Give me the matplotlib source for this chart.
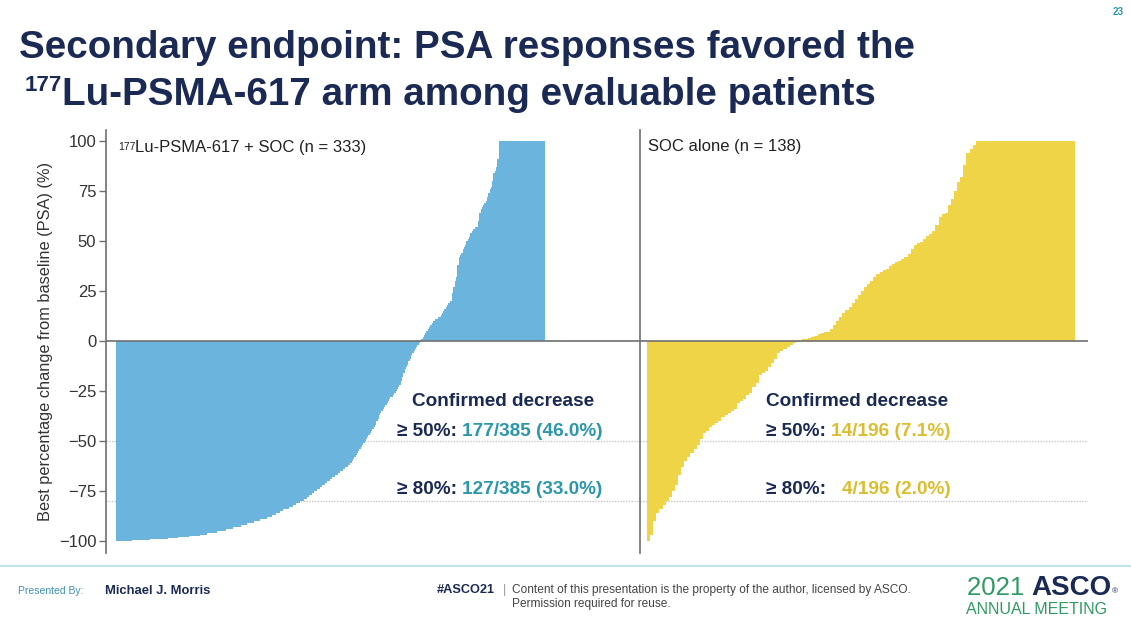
import numpy as np
import matplotlib.pyplot as plt

W, H = 1131, 631

# 177Lu-PSMA-617 + SOC arm: sorted best PSA change (%), as level and number of bars at that level
lu_levels = [-100, -99.5, -99, -98.5, -98, -97.5, -97, -96, -95, -94,
             -93, -92, -91, -90, -89, -88, -87, -86, -85, -84,
             -83, -82, -81, -80, -79, -78, -77, -76, -75, -74,
             -73, -72, -71, -70, -69, -68, -67, -66, -65, -64,
             -63, -62, -61, -60, -59, -58, -57, -56, -55, -54,
             -53, -52, -51, -50, -49, -48, -47, -46, -45, -44,
             -43, -42, -40, -39, -37, -36, -35, -34, -33, -32,
             -31, -30, -29, -28, -27, -26, -25, -24, -23, -22,
             -20, -18, -16, -14, -13, -12, -10, -9, -7, -6,
             -5, -4, -3, -2, -1, 0.5, 1, 2, 3, 4,
             5, 6, 7, 8, 9, 10, 11, 12, 13, 14,
             15, 16, 17, 18, 19, 20, 24, 27, 30, 32,
             38, 42, 43, 44, 46, 47, 48, 50, 51, 52,
             54, 55, 56, 57, 60, 64, 66, 67, 68, 69,
             70, 72, 74, 76, 77, 80, 84, 85, 87, 91,
             100]
lu_counts = [12, 14, 14, 8, 9, 8, 6, 7, 7, 6,
             6, 5, 5, 5, 5, 4, 3, 3, 3, 4,
             3, 3, 3, 3, 2, 2, 2, 2, 2, 2,
             2, 2, 2, 2, 2, 2, 2, 2, 2, 2,
             2, 2, 1, 1, 1, 1, 1, 1, 1, 1,
             1, 1, 1, 1, 1, 1, 1, 1, 1, 1,
             1, 1, 1, 1, 1, 1, 1, 1, 1, 1,
             1, 1, 1, 2, 1, 1, 1, 1, 1, 1,
             1, 1, 1, 1, 1, 1, 1, 1, 1, 1,
             1, 1, 1, 1, 1, 1, 1, 1, 1, 1,
             1, 1, 1, 1, 1, 2, 2, 2, 1, 1,
             1, 1, 1, 1, 1, 2, 1, 1, 1, 1,
             1, 1, 1, 1, 1, 1, 1, 1, 1, 1,
             1, 1, 2, 2, 1, 1, 1, 1, 1, 1,
             1, 1, 1, 1, 1, 1, 1, 1, 1, 1,
             36]

# SOC alone arm: sorted best PSA change (%), one value per patient
soc_values = [-100, -97, -90, -86, -84, -82, -80, -78, -75, -72,
              -67, -63, -60, -58, -56, -54, -52, -49, -46, -45,
              -43, -42, -41, -40, -38, -37, -36, -35, -34, -31,
              -30, -29, -27, -26, -23, -21, -17, -16, -15, -13,
              -11, -9, -6, -5, -4, -3, -2, -1, -0.5,
              0.3, 0.8, 1, 1.3, 2, 2.5, 3.5, 4, 4.3, 4.6,
              6, 8, 10, 12, 14, 15.5, 17, 19, 21, 23,
              25, 27, 28.5, 30, 32, 33.5, 34.5, 35.5, 36, 37.5,
              38.5, 39.5, 40, 41, 42, 43.5, 46, 48, 49, 49.5,
              51, 52.5, 53.5, 55, 58, 62, 63.5, 64, 68, 71,
              75, 79.5, 82, 88, 94, 96, 98] + [100] * 32

y_ticks = [100, 75, 50, 25, 0, -25, -50, -75, -100]
thresholds = [-50, -80]

NAVY = '#1b2a55'
BLUE = '#6bb4dd'
YELLOW = '#efd447'
TEAL = '#2a97ab'
GOLD = '#dcbd2e'
GREY = '#707070'

plt.rcParams['font.family'] = ['Liberation Sans', 'DejaVu Sans']

fig = plt.figure(figsize=(W / 100, H / 100), dpi=100)
fig.patch.set_facecolor('white')


def fx(x):
    return x / W


def fy(y):
    return 1 - y / H


def put(x, y, s, **kw):
    kw.setdefault('va', 'center')
    return fig.text(fx(x), fy(y), s, **kw)


def chain(parts, x, y, **kw):
    # draw text pieces one after another on one line
    r = fig.canvas.get_renderer()
    for s, opts in parts:
        t = put(x, y, s, **{**kw, **opts})
        x = t.get_window_extent(r).x1
    return x


ylim = (-106.2, 105.4)
lu_vals = np.repeat(lu_levels, lu_counts)

ax1 = fig.add_axes([fx(106), fy(553), fx(640) - fx(106), fy(130) - fy(553)])
ax2 = fig.add_axes([fx(640), fy(553), fx(1088) - fx(640), fy(130) - fy(553)])

ax1.bar(np.arange(len(lu_vals)), lu_vals, width=1.0, color=BLUE,
        linewidth=0, antialiased=False, zorder=2)
ax1.set_xlim(-8.3, 406.3)
ax2.bar(np.arange(len(soc_values)), soc_values, width=1.0, color=YELLOW,
        linewidth=0, antialiased=False, zorder=2)
ax2.set_xlim(-2.76, 141.7)

for ax in (ax1, ax2):
    ax.set_ylim(*ylim)
    ax.patch.set_alpha(0)
    for side in ('top', 'right', 'bottom'):
        ax.spines[side].set_visible(False)
    ax.spines['left'].set_color(GREY)
    ax.spines['left'].set_linewidth(1.2)
    ax.set_xticks([])
    ax.axhline(0, color=GREY, lw=1.2, zorder=3)
    for t in thresholds:
        ax.axhline(t, color='#c8c8c8', lw=1.0, ls=(0, (1, 1)), zorder=1)

ax1.set_yticks(y_ticks)
ax1.tick_params(axis='y', length=5, width=1, color=GREY, labelsize=12,
                labelcolor='#333333', pad=2)
ax1.set_ylabel('Best percentage change from baseline (PSA) (%)', fontsize=11.8,
               color='#333333', labelpad=4)
ax2.set_yticks([])

# panel labels
chain([('177', dict(fontsize=7.5, va='bottom')),
       ('Lu-PSMA-617 + SOC (n = 333)', dict(fontsize=12, va='baseline'))],
      118, 152, color='#222222')
put(648, 147, 'SOC alone (n = 138)', fontsize=12, color='#222222')

# response annotations
bold = dict(fontweight='bold', fontsize=13.7)
put(412, 402, 'Confirmed decrease', color=NAVY, **bold)
chain([('≥ 50%: ', dict(color=NAVY)), ('177/385 (46.0%)', dict(color=TEAL))], 397, 432, **bold)
chain([('≥ 80%: ', dict(color=NAVY)), ('127/385 (33.0%)', dict(color=TEAL))], 397, 490, **bold)
put(766, 402, 'Confirmed decrease', color=NAVY, **bold)
chain([('≥ 50%: ', dict(color=NAVY)), ('14/196 (7.1%)', dict(color=GOLD))], 766, 432, **bold)
put(766, 490, '≥ 80%:', color=NAVY, **bold)
put(842, 490, '4/196 (2.0%)', color=GOLD, **bold)

# title
put(19, 58, 'Secondary endpoint: PSA responses favored the', fontsize=27.8,
    fontweight='bold', color=NAVY, va='baseline')
put(62, 91, '177', fontsize=16, fontweight='bold', color=NAVY, va='baseline', ha='right')
put(62, 105, 'Lu-PSMA-617 arm among evaluable patients', fontsize=27.8,
    fontweight='bold', color=NAVY, va='baseline')
put(1113, 12, '23', fontsize=7, color=TEAL, fontweight='bold')

# footer
fig.add_artist(plt.Line2D([0, 1], [fy(566), fy(566)], color='#bfe3ec', lw=1.5))
put(18, 591, 'Presented By:', fontsize=7.5, color='#3f8fb3')
put(105, 591, 'Michael J. Morris', fontsize=9.4, color=NAVY, fontweight='bold')
put(437, 590, '#ASCO21', fontsize=9.2, color=NAVY, fontweight='bold')
put(503, 590, '|', fontsize=9, color='#999999')
put(512, 590, 'Content of this presentation is the property of the author, licensed by ASCO.',
    fontsize=8.6, color='#444444')
put(512, 604, 'Permission required for reuse.', fontsize=8.6, color='#444444')
chain([('2021 ', dict(color='#2f9a63', fontsize=18.5)),
       ('ASCO', dict(color=NAVY, fontsize=20, fontweight='bold')),
       ('®', dict(color=NAVY, fontsize=6, va='top'))], 967, 588)
put(966, 609, 'ANNUAL MEETING', fontsize=11.5, color='#2f9a63')

fig.savefig('out.png', dpi=100, facecolor='white')
